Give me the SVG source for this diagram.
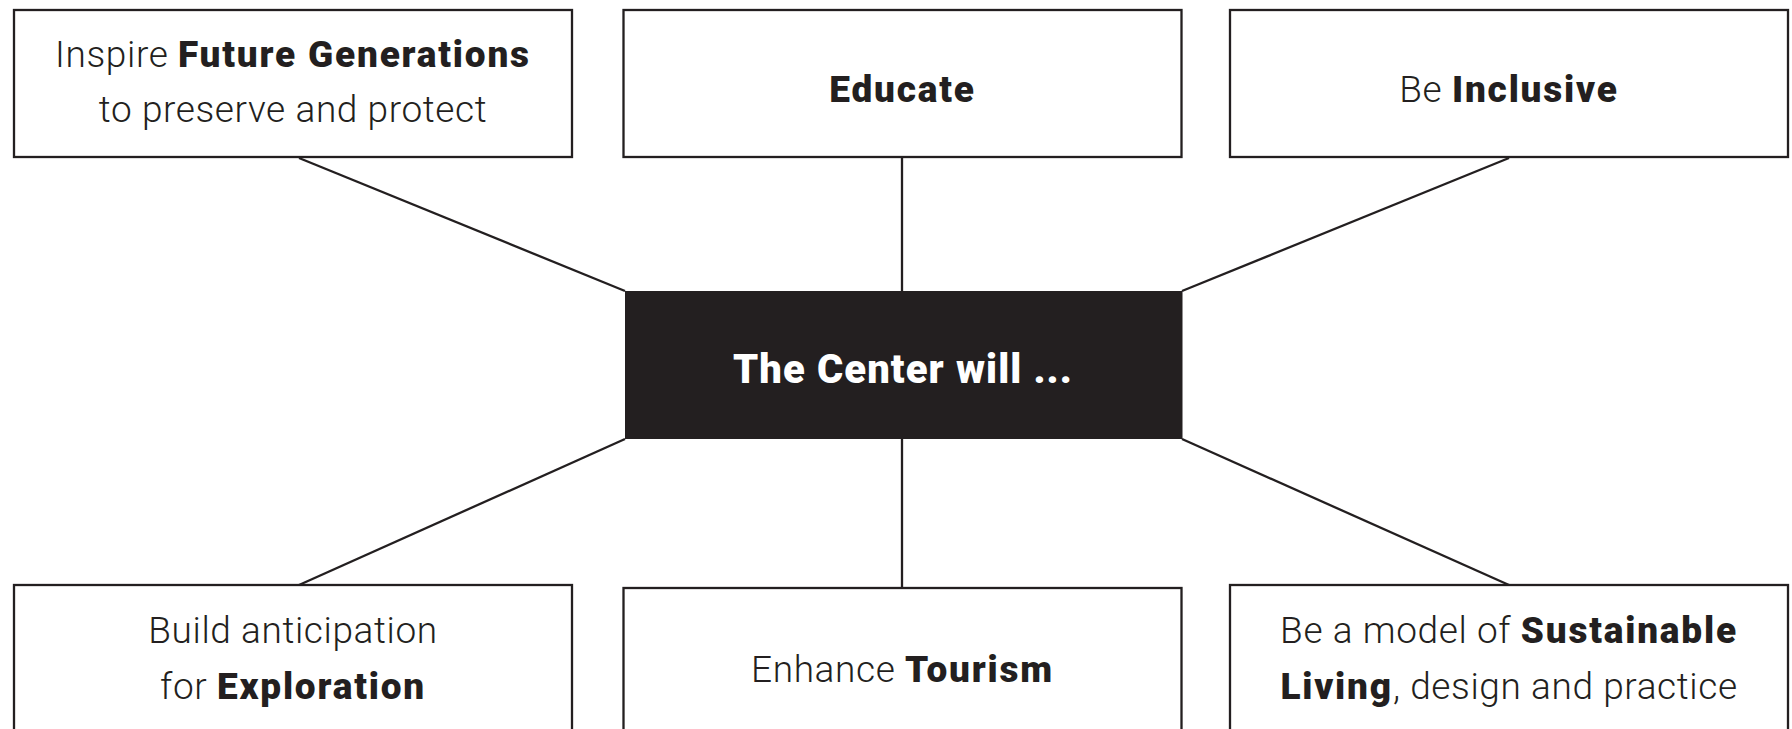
<svg xmlns="http://www.w3.org/2000/svg" width="1792" height="729" viewBox="0 0 1792 729">
<style>
.box{fill:#fff;stroke:#231f20;stroke-width:2.3}
.core{fill:#231f20}
.t{font-family:Roboto,"Liberation Sans",sans-serif;font-size:37px;font-weight:300;fill:#231f20;text-anchor:middle;letter-spacing:0.6px}
.b{font-weight:900;letter-spacing:1.8px}
.ct{font-family:Roboto,"Liberation Sans",sans-serif;font-size:40px;font-weight:900;fill:#fff;text-anchor:middle;letter-spacing:1.1px}
.ln{stroke:#231f20;stroke-width:2.3;fill:none}
</style>
<rect width="1792" height="729" fill="#fff"/>
<g id="connectors">
<line class="ln" x1="299" y1="158" x2="625" y2="291"/>
<line class="ln" x1="902" y1="158" x2="902" y2="291"/>
<line class="ln" x1="1509" y1="158" x2="1182" y2="291"/>
<line class="ln" x1="625" y1="439" x2="299" y2="585"/>
<line class="ln" x1="902" y1="439" x2="902" y2="588"/>
<line class="ln" x1="1182" y1="439" x2="1509" y2="585"/>
</g>
<g id="center">
<rect class="core" x="625" y="291" width="557.5" height="148"/>
<text class="ct" x="903" y="383">The Center will ...</text>
</g>
<g id="future">
<rect class="box" x="14" y="10" width="558" height="147"/>
<text class="t" x="293" y="67">Inspire <tspan class="b">Future Generations</tspan></text>
<text class="t" x="293" y="122">to preserve and protect</text>
</g>
<g id="educate">
<rect class="box" x="623.5" y="10" width="558" height="147"/>
<text class="t" x="902.5" y="102"><tspan class="b">Educate</tspan></text>
</g>
<g id="inclusive">
<rect class="box" x="1230" y="10" width="558" height="147"/>
<text class="t" x="1509" y="102">Be <tspan class="b">Inclusive</tspan></text>
</g>
<g id="exploration">
<rect class="box" x="14" y="585" width="558" height="200"/>
<text class="t" x="293" y="643">Build anticipation</text>
<text class="t" x="293" y="699">for <tspan class="b">Exploration</tspan></text>
</g>
<g id="tourism">
<rect class="box" x="623.5" y="588" width="558" height="200"/>
<text class="t" x="902.5" y="682">Enhance <tspan class="b">Tourism</tspan></text>
</g>
<g id="sustainable">
<rect class="box" x="1230" y="585" width="558" height="200"/>
<text class="t" x="1509" y="643">Be a model of <tspan class="b">Sustainable</tspan></text>
<text class="t" x="1509" y="699"><tspan class="b">Living</tspan>, design and practice</text>
</g>
</svg>
